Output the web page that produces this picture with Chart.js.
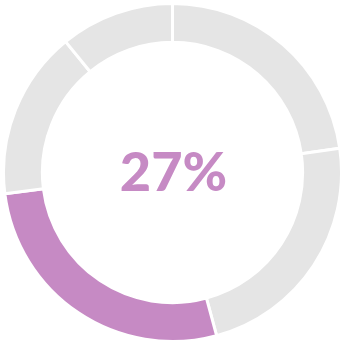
<!DOCTYPE html>
<html>
<head>
<meta charset="utf-8">
<script src="https://cdn.jsdelivr.net/npm/chart.js@4"></script>
<style>
  html, body { margin: 0; padding: 0; background: #fff; }
  #wrap { width: 345px; height: 345px; }
</style>
</head>
<body>
<div id="wrap"><canvas id="chart"></canvas></div>
<script>
// segments clockwise from 12 o'clock
const labels = ['A', 'B', 'C', 'D', 'E'];
const values = [22.7, 23.1, 27.2, 16.1, 10.9];
const colors = ['#e5e5e5', '#e5e5e5', '#c68ac4', '#e5e5e5', '#e5e5e5'];
const centerLabel = '27%';

// draws the big percentage in the hole
const centerText = {
    id: 'centerText',
    afterDraw(chart) {
        const ctx = chart.ctx;
        const arc = chart.getDatasetMeta(0).data[0];
        ctx.save();
        ctx.font = '900 54px Lato';
        ctx.fillStyle = '#c68ac4';
        ctx.textAlign = 'center';
        ctx.textBaseline = 'middle';
        ctx.fillText(centerLabel, arc.x + 1, arc.y + 1);
        ctx.restore();
    }
};

new Chart(document.getElementById('chart'), {
    type: 'doughnut',
    data: {
        labels: labels,
        datasets: [{
            data: values,
            backgroundColor: colors,
            borderColor: '#ffffff',
            borderWidth: 3,
            hoverOffset: 0
        }]
    },
    options: {
        responsive: true,
        maintainAspectRatio: false,
        animation: false,
        cutout: '77%',
        layout: { padding: 2 },
        plugins: {
            legend: { display: false },
            tooltip: { enabled: false }
        }
    },
    plugins: [centerText]
});
</script>
</body>
</html>
